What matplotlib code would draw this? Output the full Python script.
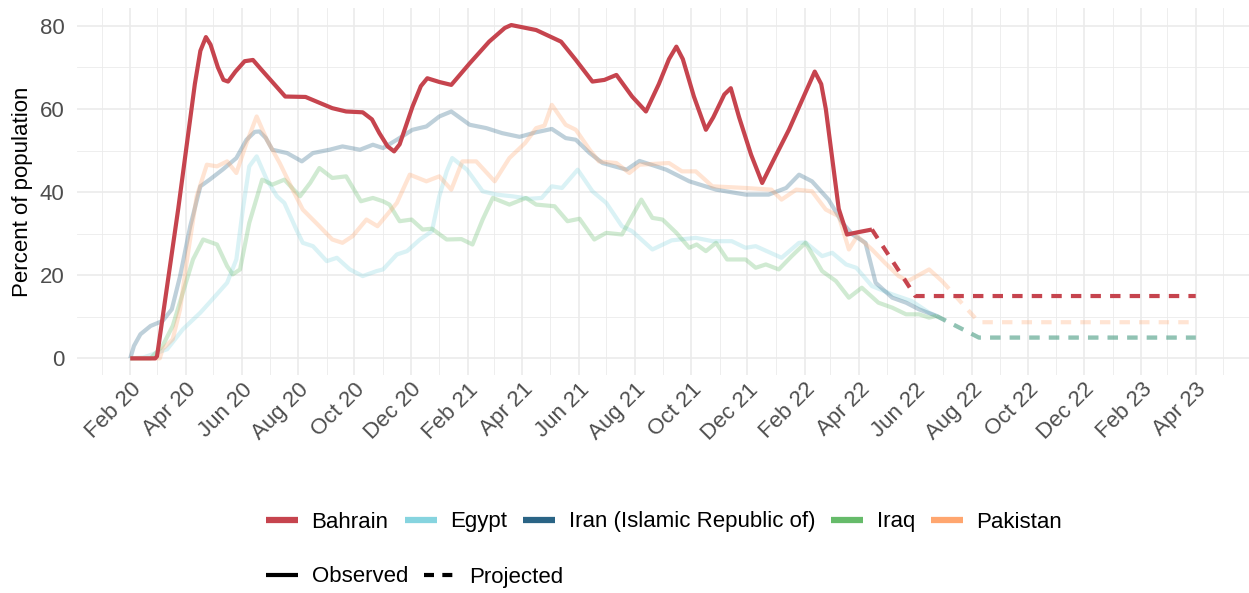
import matplotlib
matplotlib.use("Agg")
import matplotlib.pyplot as plt
from matplotlib.lines import Line2D
import pandas as pd

plt.rcParams['font.family'] = ['Liberation Sans', 'DejaVu Sans']

# ---- data ----
countries = ["Bahrain", "Egypt", "Iran (Islamic Republic of)", "Iraq", "Pakistan"]
colors = ["#c6444e", "#86d4df", "#2a6485", "#66bb6a", "#ffa66f"]

bahrain_dates = ["2020-02-01", "2020-02-28", "2020-03-01", "2020-03-24", "2020-04-11", "2020-04-17",
                 "2020-04-23", "2020-04-28", "2020-05-06", "2020-05-12", "2020-05-17", "2020-05-25",
                 "2020-06-04", "2020-06-13", "2020-06-22", "2020-07-04", "2020-07-18", "2020-08-09",
                 "2020-08-24", "2020-09-07", "2020-09-22", "2020-10-10", "2020-10-20", "2020-10-28",
                 "2020-11-06", "2020-11-13", "2020-11-19", "2020-12-03", "2020-12-12", "2020-12-19",
                 "2021-01-01", "2021-01-14", "2021-02-03", "2021-02-24", "2021-03-13", "2021-03-20",
                 "2021-04-16", "2021-05-13", "2021-05-29", "2021-06-16", "2021-06-29", "2021-07-12",
                 "2021-07-29", "2021-08-13", "2021-08-27", "2021-09-07", "2021-09-15", "2021-09-22",
                 "2021-10-04", "2021-10-17", "2021-10-25", "2021-11-06", "2021-11-13", "2021-11-22",
                 "2021-12-05", "2021-12-17", "2021-12-30", "2022-01-15", "2022-01-31", "2022-02-12",
                 "2022-02-19", "2022-02-24", "2022-03-03", "2022-03-10", "2022-03-19", "2022-04-01",
                 "2022-04-15"]
bahrain_vals = [0, 0, 0.5, 36, 66, 74, 77.3, 75.5, 70, 67,
                66.6, 69, 71.5, 71.8, 69.5, 66.5, 63, 62.9, 61.5, 60.2,
                59.4, 59.2, 57.5, 54.2, 51, 49.8, 51.5, 60.6, 65.5, 67.4,
                66.5, 65.8, 71, 76.2, 79.5, 80.2, 79, 76.2, 71.8, 66.6,
                67, 68.2, 63, 59.4, 66, 72, 75, 72, 63, 55,
                58, 63.5, 65, 58, 49, 42.2, 48, 55, 63, 69,
                66, 60, 48, 36, 29.8, 30.4, 31]

egypt_dates = ["2020-02-01", "2020-02-15", "2020-03-12", "2020-03-29", "2020-04-17", "2020-04-30",
               "2020-05-16", "2020-05-26", "2020-06-02", "2020-06-09", "2020-06-17", "2020-06-28",
               "2020-07-09", "2020-07-17", "2020-07-30", "2020-08-06", "2020-08-17", "2020-09-01",
               "2020-09-12", "2020-09-26", "2020-10-10", "2020-10-25", "2020-11-01", "2020-11-16",
               "2020-11-27", "2020-12-11", "2020-12-24", "2021-01-01", "2021-01-09", "2021-01-15",
               "2021-01-31", "2021-02-17", "2021-03-04", "2021-03-21", "2021-04-09", "2021-04-22",
               "2021-05-03", "2021-05-14", "2021-05-31", "2021-06-16", "2021-07-01", "2021-07-18",
               "2021-07-29", "2021-08-20", "2021-09-10", "2021-10-06", "2021-10-24", "2021-11-14",
               "2021-11-29", "2021-12-10", "2022-01-07", "2022-01-26", "2022-02-02", "2022-02-20",
               "2022-03-03", "2022-03-18", "2022-03-29", "2022-04-15", "2022-05-07", "2022-05-28",
               "2022-06-16", "2022-06-24"]
egypt_vals = [0, 0.2, 2.2, 7, 11, 14.2, 18.2, 23.8, 35.8, 46.2,
              48.6, 43, 39, 37.4, 31, 27.8, 27, 23.4, 24.2, 21.4,
              19.8, 21, 21.4, 25, 25.8, 28.6, 30.6, 39, 45, 48.2,
              45.4, 40.2, 39.4, 39, 38.4, 38.6, 41.4, 41, 45.4, 40.2,
              37.4, 31.8, 30.6, 26.2, 28.4, 29, 28.2, 28.2, 26.6, 27,
              24.2, 27.8, 27.9, 24.6, 25.4, 22.6, 21.8, 17.4, 15.4, 13.8,
              11, 10.2]

iran_dates = ["2020-02-01", "2020-02-05", "2020-02-12", "2020-02-23", "2020-03-07", "2020-03-17",
              "2020-03-26", "2020-04-06", "2020-04-17", "2020-04-27", "2020-05-11", "2020-05-26",
              "2020-06-06", "2020-06-15", "2020-06-20", "2020-06-27", "2020-07-04", "2020-07-20",
              "2020-08-05", "2020-08-17", "2020-09-04", "2020-09-18", "2020-10-07", "2020-10-21",
              "2020-11-01", "2020-11-16", "2020-12-03", "2020-12-18", "2021-01-01", "2021-01-14",
              "2021-02-03", "2021-02-21", "2021-03-10", "2021-03-29", "2021-04-16", "2021-05-03",
              "2021-05-18", "2021-05-29", "2021-06-13", "2021-06-27", "2021-07-23", "2021-08-06",
              "2021-08-20", "2021-09-04", "2021-09-29", "2021-10-28", "2021-11-29", "2021-12-24",
              "2022-01-12", "2022-01-26", "2022-02-09", "2022-02-27", "2022-03-14", "2022-03-25",
              "2022-04-08", "2022-04-19", "2022-05-07", "2022-05-22", "2022-06-05", "2022-06-24"]
iran_vals = [0, 3, 5.8, 7.8, 9, 11.8, 19.8, 31.8, 41.4, 43,
             45.4, 48.2, 52.6, 54.5, 54.6, 53, 50.2, 49.4, 47.4, 49.4,
             50.2, 51, 50.2, 51.4, 50.6, 52.6, 55, 55.8, 58.2, 59.4,
             56.2, 55.4, 54.2, 53.3, 54.4, 55.2, 53, 52.6, 49.4, 47,
             45.4, 47.5, 46.5, 45.4, 42.6, 40.6, 39.4, 39.4, 41, 44.2,
             42.6, 38.2, 32.6, 29.8, 27.8, 18.2, 14.6, 13.4, 11.8, 10.2]

iraq_dates = ["2020-02-01", "2020-02-23", "2020-03-07", "2020-03-18", "2020-03-29", "2020-04-09",
              "2020-04-20", "2020-05-05", "2020-05-16", "2020-05-22", "2020-05-30", "2020-06-09",
              "2020-06-23", "2020-07-04", "2020-07-17", "2020-08-03", "2020-08-14", "2020-08-24",
              "2020-09-07", "2020-09-22", "2020-10-08", "2020-10-21", "2020-11-01", "2020-11-08",
              "2020-11-19", "2020-12-02", "2020-12-14", "2020-12-24", "2021-01-09", "2021-01-25",
              "2021-02-06", "2021-02-17", "2021-02-28", "2021-03-18", "2021-04-05", "2021-04-16",
              "2021-05-06", "2021-05-20", "2021-06-02", "2021-06-18", "2021-07-01", "2021-07-18",
              "2021-08-08", "2021-08-20", "2021-08-31", "2021-09-15", "2021-09-29", "2021-10-07",
              "2021-10-17", "2021-10-28", "2021-11-09", "2021-11-29", "2021-12-10", "2021-12-21",
              "2022-01-04", "2022-01-18", "2022-02-02", "2022-02-20", "2022-03-07", "2022-03-21",
              "2022-04-04", "2022-04-22", "2022-05-07", "2022-05-22", "2022-06-05", "2022-06-16",
              "2022-06-24"]
iraq_vals = [0, 0, 3, 7.8, 15.8, 23.8, 28.6, 27.4, 22.2, 20.2,
             21.4, 32.6, 43, 41.8, 43, 39, 42.2, 45.8, 43.4, 43.8,
             37.8, 38.6, 37.8, 37, 33, 33.4, 31, 31.2, 28.6, 28.7,
             27.4, 33.4, 38.6, 37, 38.6, 37, 36.6, 33, 33.6, 28.6,
             30.2, 29.8, 38.2, 33.8, 33.4, 30.2, 26.6, 27.4, 25.8, 27.8,
             23.8, 23.8, 21.8, 22.6, 21.4, 24.6, 27.8, 21, 18.6, 14.6,
             17, 13.4, 12.2, 10.6, 10.6, 9.8, 10.2]

pakistan_dates = ["2020-02-01", "2020-03-04", "2020-03-07", "2020-03-18", "2020-03-26", "2020-04-02",
                  "2020-04-13", "2020-04-24", "2020-05-05", "2020-05-16", "2020-05-26", "2020-06-06",
                  "2020-06-17", "2020-06-28", "2020-07-12", "2020-07-26", "2020-08-06", "2020-08-24",
                  "2020-09-07", "2020-09-18", "2020-09-29", "2020-10-14", "2020-10-26", "2020-11-16",
                  "2020-11-30", "2020-12-18", "2021-01-01", "2021-01-14", "2021-01-26", "2021-02-10",
                  "2021-03-02", "2021-03-18", "2021-04-04", "2021-04-16", "2021-04-25", "2021-05-03",
                  "2021-05-18", "2021-05-29", "2021-06-13", "2021-06-23", "2021-07-12", "2021-07-26",
                  "2021-08-06", "2021-09-07", "2021-09-21", "2021-10-06", "2021-10-24", "2021-11-29",
                  "2021-12-27", "2022-01-07", "2022-01-23", "2022-02-09", "2022-02-24", "2022-03-10",
                  "2022-03-21", "2022-03-30", "2022-04-15", "2022-04-29", "2022-05-14", "2022-05-24",
                  "2022-06-16", "2022-06-30"]
pakistan_vals = [0, 0, 2.2, 4.6, 11.8, 23, 39, 46.6, 46.2, 47.4,
                 44.6, 51.8, 58.2, 52.6, 47, 40.6, 35.8, 31.8, 28.6, 27.8,
                 29.4, 33.4, 31.8, 37.4, 44.2, 42.6, 43.8, 40.6, 47.4, 47.4,
                 42.6, 48.2, 51.8, 55.4, 56, 61, 56.2, 55, 50.2, 47.4,
                 47, 44.6, 46.6, 47, 45, 45, 41.4, 41, 40.6, 38.2,
                 40.6, 40.2, 35.8, 34.2, 26.2, 29.4, 26.2, 23, 19.8, 18.6,
                 21.4, 18.6]

# projections
bahrain_proj_dates = ["2022-04-15", "2022-06-01", "2023-04-01"]
bahrain_proj_vals = [31, 15, 15]
egypt_proj_dates = ["2022-06-24", "2022-08-09", "2023-04-01"]
egypt_proj_vals = [10.2, 5, 5]
iran_proj_dates = ["2022-06-24", "2022-08-09", "2023-04-01"]
iran_proj_vals = [10.2, 5, 5]
iraq_proj_dates = ["2022-06-24", "2022-08-09", "2023-04-01"]
iraq_proj_vals = [10.2, 5, 5]
pakistan_proj_dates = ["2022-06-30", "2022-08-09", "2023-04-01"]
pakistan_proj_vals = [18.6, 8.7, 8.7]

obs = [(bahrain_dates, bahrain_vals), (egypt_dates, egypt_vals), (iran_dates, iran_vals),
       (iraq_dates, iraq_vals), (pakistan_dates, pakistan_vals)]
proj = [(bahrain_proj_dates, bahrain_proj_vals), (egypt_proj_dates, egypt_proj_vals),
        (iran_proj_dates, iran_proj_vals), (iraq_proj_dates, iraq_proj_vals),
        (pakistan_proj_dates, pakistan_proj_vals)]

# ---- figure ----
W, H = 1249, 593
FS = 16
fig = plt.figure(figsize=(W / 100, H / 100), dpi=100)
ax = fig.add_axes([77 / W, (H - 375) / H, (W - 77) / W, 367 / H])

dash = (0, (2.5, 2.2))
order = [1, 2, 3, 4, 0]  # highlighted country on top
for i in order:
    a = 1.0 if i == 0 else 0.3
    d, v = obs[i]
    ax.plot(pd.to_datetime(d), v, color=colors[i], alpha=a, lw=3,
            solid_joinstyle='round', solid_capstyle='butt', zorder=3 + (i == 0))
    d, v = proj[i]
    ax.plot(pd.to_datetime(d), v, color=colors[i], alpha=a, lw=3,
            linestyle=dash, dash_capstyle='butt', zorder=3 + (i == 0))

start, end = pd.Timestamp("2020-02-01"), pd.Timestamp("2023-04-01")
pad = (end - start) * 0.05
ax.set_xlim(start - pad, end + pad)
ax.set_ylim(-4.0, 84.3)

major = pd.date_range("2020-02-01", "2023-04-01", freq="2MS")
minor = pd.date_range("2020-01-01", "2023-05-01", freq="2MS")
ax.set_xticks(major)
ax.set_xticks(minor, minor=True)
ax.set_xticklabels([m.strftime("%b %y") for m in major], rotation=45,
                   ha='right', va='top', rotation_mode='anchor')
ax.set_yticks([0, 20, 40, 60, 80])
ax.set_yticks([10, 30, 50, 70], minor=True)

ax.tick_params(which='both', length=0, labelsize=FS, labelcolor='#4d4d4d')
ax.tick_params(axis='y', pad=9)
ax.tick_params(axis='x', pad=3)
for s in ax.spines.values():
    s.set_visible(False)
ax.grid(which='major', color='#ebebeb', lw=1.2)
ax.grid(which='minor', color='#ebebeb', lw=0.6)
ax.set_axisbelow(True)

ax.set_ylabel("Percent of population", fontsize=FS, color='black', labelpad=5)

# legends
h1 = [Line2D([], [], color=c, lw=4.5, solid_capstyle='butt') for c in colors]
fig.legend(h1, countries, loc='center left', bbox_to_anchor=(266 / W, 1 - 522 / H),
           ncol=5, frameon=False, fontsize=FS, handlelength=1.45, handletextpad=0.6,
           columnspacing=0.72, borderpad=0, borderaxespad=0)
h2 = [Line2D([], [], color='black', lw=3, solid_capstyle='butt'),
      Line2D([], [], color='black', lw=3, linestyle=(0, (2.4, 2.0)), dash_capstyle='butt')]
fig.legend(h2, ["Observed", "Projected"], loc='center left',
           bbox_to_anchor=(266 / W, 1 - 577 / H), ncol=2, frameon=False,
           fontsize=FS, handlelength=1.45, handletextpad=0.6,
           columnspacing=0.72, borderpad=0, borderaxespad=0)

fig.savefig("out.png", dpi=100)
